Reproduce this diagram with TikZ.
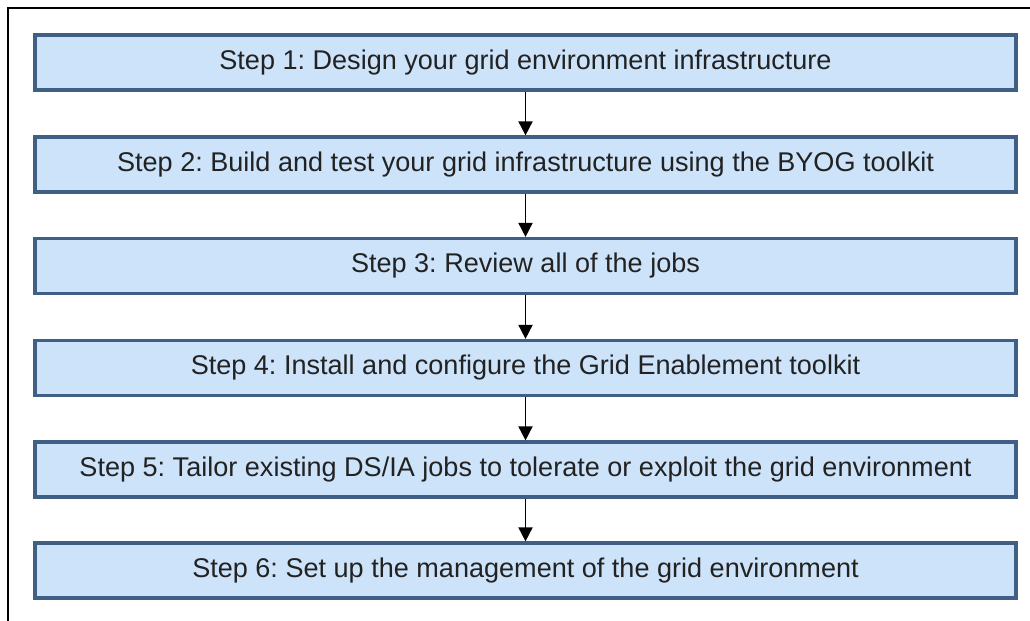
\documentclass[tikz,border=0pt]{standalone}
\usepackage{fontspec}
\setmainfont{Liberation Sans}
\usepackage{xcolor}
\usetikzlibrary{arrows.meta}

\definecolor{boxfill}{HTML}{CCE3FA}
\definecolor{boxline}{HTML}{3F5F85}
\definecolor{textgrey}{HTML}{222222}

\tikzset{
  stepbox/.style={draw=boxline, line width=1.8pt, fill=boxfill,
    minimum width=19.62cm, minimum height=1.1cm, inner sep=0pt,
    text=textgrey, font=\frenchspacing\fontsize{15.4}{18}\selectfont},
  flow/.style={-{Triangle[length=8pt,width=8pt]}, line width=1pt, black}
}

\begin{document}
\begin{tikzpicture}
  \useasboundingbox (0,0) rectangle (20.6,12.42) ;
  \draw[line width=1.1pt] (0.16,0) -- (0.16,12.26) -- (20.6,12.26) ;

  \node[stepbox] (s1) at (10.51,11.17) {Step 1: Design your grid environment infrastructure} ;
  \node[stepbox] (s2) at (10.51,9.13) {Step 2: Build and test your grid infrastructure using the BYOG toolkit} ;
  \node[stepbox] (s3) at (10.51,7.10) {Step 3: Review all of the jobs} ;
  \node[stepbox] (s4) at (10.51,5.06) {Step 4: Install and configure the Grid Enablement toolkit} ;
  \node[stepbox] (s5) at (10.51,3.03) {Step 5: Tailor existing DS/IA jobs to tolerate or exploit the grid environment} ;
  \node[stepbox] (s6) at (10.51,1.01) {Step 6: Set up the management of the grid environment} ;

  \draw[flow] (s1) -- (s2) ;
  \draw[flow] (s2) -- (s3) ;
  \draw[flow] (s3) -- (s4) ;
  \draw[flow] (s4) -- (s5) ;
  \draw[flow] (s5) -- (s6) ;
\end{tikzpicture}
\end{document}
